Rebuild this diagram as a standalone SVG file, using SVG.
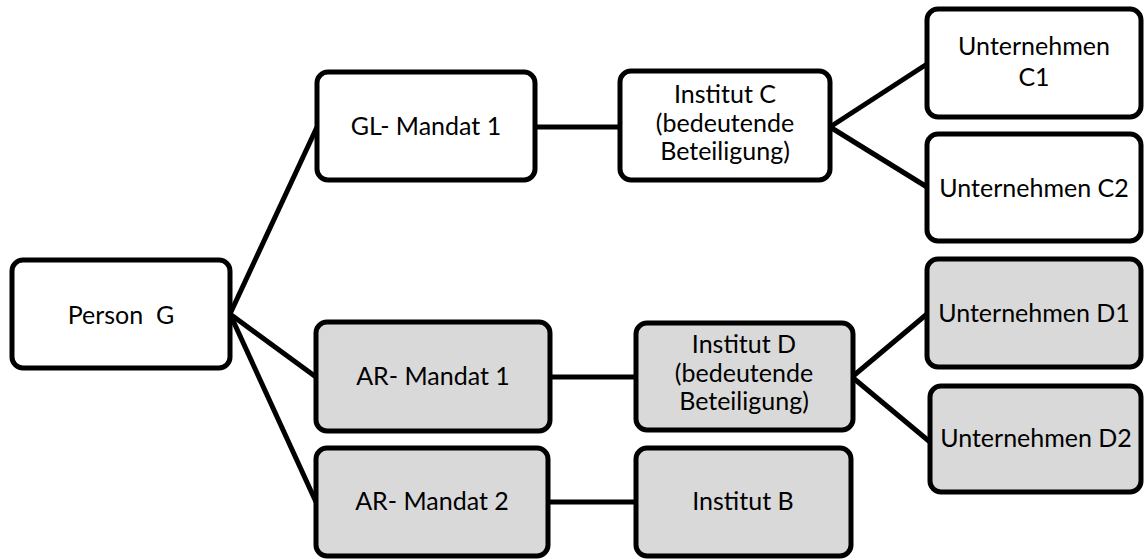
<svg xmlns="http://www.w3.org/2000/svg" width="1145" height="559" viewBox="0 0 1145 559">
<style>
.b{stroke:#000;stroke-width:5;fill:#fff}
.g{fill:#d9d9d9}
.t{font-family:Lato,"Open Sans",sans-serif;font-size:25px;text-anchor:middle;fill:#000}
.c{stroke:#000;stroke-width:5;fill:none}
</style>
<rect width="1145" height="559" fill="#fff"/>
<g id="connectors">
<line class="c" x1="230" y1="314" x2="317" y2="127"/>
<line class="c" x1="230" y1="314" x2="316" y2="377"/>
<line class="c" x1="230" y1="314" x2="316" y2="502"/>
<line class="c" x1="535" y1="127" x2="620" y2="127"/>
<line class="c" x1="550" y1="377" x2="636" y2="377"/>
<line class="c" x1="548" y1="502" x2="636" y2="502"/>
<line class="c" x1="830" y1="127" x2="927" y2="64"/>
<line class="c" x1="830" y1="127" x2="927" y2="187"/>
<line class="c" x1="852" y1="377" x2="927" y2="314"/>
<line class="c" x1="852" y1="377" x2="930" y2="442"/>
</g>
<g id="personG"><rect class="b" x="12" y="260" width="218" height="108" rx="11"/><text class="t" x="121" y="324" xml:space="preserve">Person  G</text></g>
<g id="glMandat1"><rect class="b" x="317" y="72" width="218" height="108" rx="11"/><text class="t" x="426" y="135">GL- Mandat 1</text></g>
<g id="institutC"><rect class="b" x="620" y="71" width="210" height="109" rx="11"/><text class="t" x="725" y="103">Institut C</text><text class="t" x="725" y="132">(bedeutende</text><text class="t" x="725" y="160">Beteiligung)</text></g>
<g id="unternehmenC1"><rect class="b" x="927" y="9" width="214" height="108" rx="11"/><text class="t" x="1034" y="55">Unternehmen</text><text class="t" x="1034" y="86">C1</text></g>
<g id="unternehmenC2"><rect class="b" x="927" y="134" width="214" height="107" rx="11"/><text class="t" x="1034" y="197">Unternehmen C2</text></g>
<g id="arMandat1"><rect class="b g" x="316" y="322" width="234" height="109" rx="11"/><text class="t" x="433" y="385">AR- Mandat 1</text></g>
<g id="arMandat2"><rect class="b g" x="316" y="448" width="232" height="108" rx="11"/><text class="t" x="432" y="510">AR- Mandat 2</text></g>
<g id="institutD"><rect class="b g" x="636" y="323" width="217" height="107" rx="11"/><text class="t" x="744" y="353">Institut D</text><text class="t" x="744" y="382">(bedeutende</text><text class="t" x="744" y="410">Beteiligung)</text></g>
<g id="institutB"><rect class="b g" x="636" y="448" width="215" height="108" rx="11"/><text class="t" x="743" y="510">Institut B</text></g>
<g id="unternehmenD1"><rect class="b g" x="927" y="259" width="214" height="108" rx="11"/><text class="t" x="1034" y="322">Unternehmen D1</text></g>
<g id="unternehmenD2"><rect class="b g" x="930" y="386" width="211" height="106" rx="11"/><text class="t" x="1036" y="447">Unternehmen D2</text></g>
</svg>
